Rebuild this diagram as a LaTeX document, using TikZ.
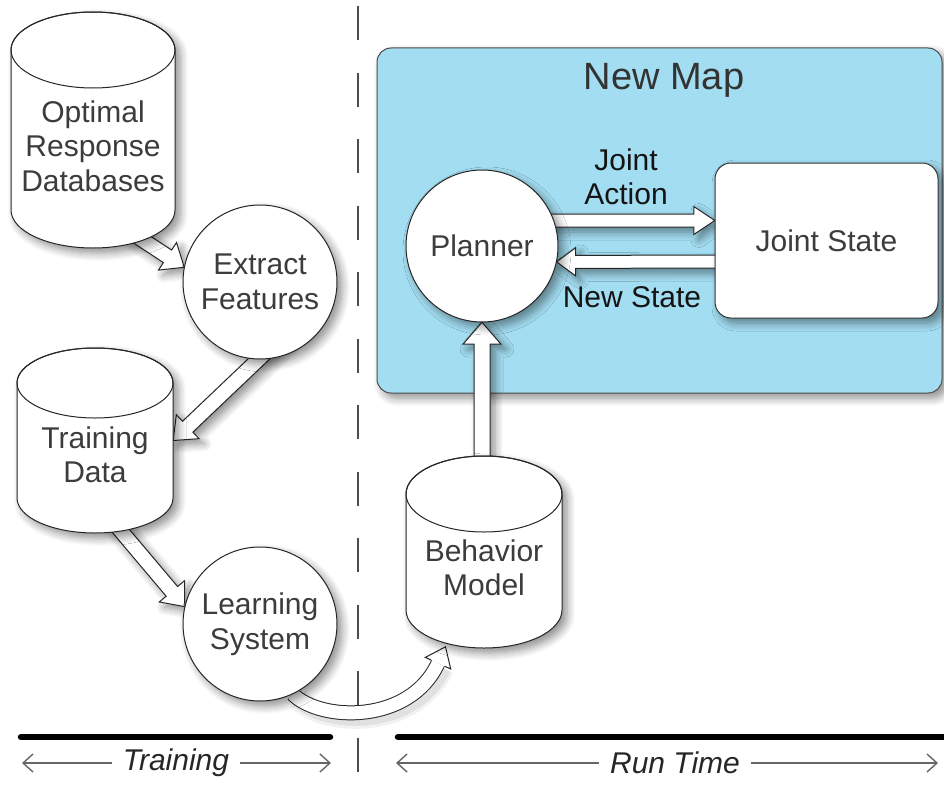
\documentclass[tikz,border=0pt]{standalone}
\usepackage{fontspec}
\setmainfont{Liberation Sans}
\usetikzlibrary{calc,arrows.meta,shadows.blur}
\definecolor{mapblue}{HTML}{A3DDF1}
\definecolor{inktext}{HTML}{3C3C3C}
\tikzset{
  softshadow/.style={blur shadow={shadow xshift=5pt, shadow yshift=-5pt, shadow blur radius=8pt, shadow blur steps=8, shadow opacity=45}},
  nodefont/.style={font=\fontsize{30}{34.5}\selectfont, text=inktext, align=center},
  bubblegeo/.style={circle, minimum size=154pt, inner sep=0pt},
  bubble/.style={bubblegeo, draw=black!85, line width=1pt, fill=white, nodefont, softshadow},
  cylbody/.style={draw=black!85, line width=1pt, fill=white, softshadow},
  cyltop/.style={draw=black!85, line width=1pt},
  cyllabel/.style={nodefont, inner sep=0pt},
  blockarrow/.style={draw=black!85, line width=1pt, fill=white, line join=miter, softshadow},
  divider/.style={draw=black!70, line width=1.3pt, dash pattern=on 34pt off 32.5pt},
  phasebar/.style={draw=black, line width=6.5pt, line cap=round},
  spanarrow/.style={draw=black!60, line width=1.4pt, shorten <=11pt, -{Straight Barb[length=10pt, width=18pt, line width=1.4pt]}},
  spantext/.style={font=\fontsize{30}{34}\selectfont\itshape, text=black!85, inner sep=0pt},
  mapbox/.style={draw=black!70, line width=1pt, fill=mapblue, rounded corners=14pt, minimum width=565pt, minimum height=345pt, inner sep=0pt, softshadow},
  maptitle/.style={font=\fontsize{38}{42}\selectfont, text=black!80, inner sep=0pt},
  stategeo/.style={rectangle, minimum width=223pt, minimum height=155pt, inner sep=0pt},
  statebox/.style={stategeo, draw=black!80, line width=1pt, fill=white, rounded corners=16pt, nodefont, softshadow},
  flowlabel/.style={font=\fontsize{30}{34.5}\selectfont, text=black!92, align=center, inner sep=0pt}
}
% cylinder anchor node: name, cx, rx, top-ellipse centre y, bottom-ellipse centre y, ry (image y, downward)
\newcommand{\cylanchor}[6]{%
  \node[inner sep=0pt, minimum width={2*#3*1pt}, minimum height={(#5-#4+2*#6)*1pt}] (#1) at (#2,{-(#4+#5)/2}) {};
}
% cylinder drawing: name, cx, rx, top y, bottom y, ry, text
\newcommand{\dbcyl}[7]{%
  \path[cylbody] (#2-#3,-#4) -- (#2-#3,-#5)
     arc[start angle=180, end angle=360, x radius=#3, y radius=#6] -- (#2+#3,-#4)
     arc[start angle=0, end angle=180, x radius=#3, y radius=#6] -- cycle;
  \draw[cyltop] (#2,-#4) ellipse[x radius=#3, y radius=#6];
  \node[cyllabel] (#1-label) at (#2,{-((#4+#6+#5)/2-3)}) {#7};
}
% block arrow: from, to, shaft half width, head half width, head length
\newcommand{\blockarrowpath}[5]{%
  \path (#1) coordinate (ba-s) (#2) coordinate (ba-t);
  \path ($(ba-t)!#5!(ba-s)$) coordinate (ba-h);
  \draw[blockarrow] ($(ba-s)!#3!90:(ba-t)$) -- ($(ba-h)!#3!-90:(ba-s)$) -- ($(ba-h)!#4!-90:(ba-s)$)
     -- (ba-t) -- ($(ba-h)!#4!90:(ba-s)$) -- ($(ba-h)!#3!90:(ba-s)$) -- ($(ba-s)!#3!-90:(ba-t)$) -- cycle;
}
\begin{document}
\begin{tikzpicture}[x=1pt,y=1pt]
\useasboundingbox (0,0) rectangle (944,-784);

% ---- background ----
\draw[divider] (358,-6) -- (358,-784);
\node[mapbox] (map) at (659.5,-220.5) {};

% ---- node geometry (named anchors) ----
\cylanchor{ord}{93}{82}{50}{210}{38}
\cylanchor{td}{95}{78}{383}{498}{35}
\cylanchor{bm}{484}{78}{494}{610}{38}
\node[bubblegeo] (ef) at (260,-282) {};
\node[bubblegeo] (ls) at (260,-624) {};
\node[bubblegeo, minimum size=152pt] (planner) at (482,-246) {};
\node[stategeo] (js) at (826.5,-240.5) {};

% ---- connectors ----
\blockarrowpath{$(ord.south)+(24,25)$}{ef.169}{7.5pt}{16.5pt}{20pt}
\blockarrowpath{$(ef.center)+(23,-54)$}{td.east}{7.5pt}{16.5pt}{20pt}
\blockarrowpath{$(td.center)+(-7,-51.5)$}{ls.167}{7.5pt}{16.5pt}{20pt}
\blockarrowpath{planner.south |- bm.center}{planner.south}{8pt}{19pt}{22pt}
\coordinate (ja0) at ($(planner.center)+(0,25.5)$);
\blockarrowpath{ja0}{js.west |- ja0}{6.5pt}{14pt}{21pt}
\coordinate (ns0) at ($(js.center)+(0,-21)$);
\blockarrowpath{ns0}{planner.-12}{6.5pt}{14pt}{19pt}
% curved arrow Learning System -> Behavior Model
\coordinate (c0) at (ls.295);
\coordinate (ctip) at ($(bm.south)+(-38.5,1.4)$);
\coordinate (cbase) at ($(bm.south)+(-46,-15)$);
\draw[line width=22pt, black, opacity=0.05] ($(c0)+(5,-5)$) .. controls ($(c0)+(33,-33)$) and ($(cbase)+(-23,-66)$) .. ($(cbase)+(5,-5)$);
\draw[line width=16pt, black, opacity=0.07] ($(c0)+(5,-5)$) .. controls ($(c0)+(33,-33)$) and ($(cbase)+(-23,-66)$) .. ($(cbase)+(5,-5)$);
\draw[line width=15pt, black!85] (c0) .. controls ($(c0)+(28,-28)$) and ($(cbase)+(-28,-61)$) .. (cbase);
\draw[line width=13pt, white] (c0) .. controls ($(c0)+(28,-28)$) and ($(cbase)+(-28,-61)$) .. (cbase);
\fill[white] ($(cbase)!7.5pt!90:(ctip)$) -- ($(cbase)!14pt!90:(ctip)$) -- (ctip) -- ($(cbase)!14pt!-90:(ctip)$) -- ($(cbase)!7.5pt!-90:(ctip)$) -- cycle;
\draw[black!85, line width=1pt, line join=miter] ($(cbase)!7.5pt!90:(ctip)$) -- ($(cbase)!14pt!90:(ctip)$) -- (ctip) -- ($(cbase)!14pt!-90:(ctip)$) -- ($(cbase)!7.5pt!-90:(ctip)$);

% ---- visible nodes on top ----
\dbcyl{ord}{93}{82}{50}{210}{38}{Optimal\\Response\\Databases}
\dbcyl{td}{95}{78}{383}{498}{35}{Training\\Data}
\dbcyl{bm}{484}{78}{494}{610}{38}{Behavior\\Model}
\node[bubble] (ef-face) at (ef) {Extract\\Features};
\node[bubble] (ls-face) at (ls) {Learning\\System};
\node[bubble, minimum size=152pt] (planner-face) at (planner) {Planner};
\node[statebox] (js-face) at (js) {Joint State};
\node[maptitle] (title) at (664,-80) {New Map};
\node[flowlabel] (jalbl) at (626,-177) {Joint\\Action};
\node[flowlabel] (nslbl) at (632,-297) {New State};

% ---- phase bars and spans ----
\draw[phasebar] (21,-737) -- (330,-737);
\draw[phasebar] (398,-737) -- (960,-737);
\node[spantext] (trlbl) at (176,-763) {Training};
\coordinate (trL) at (22,-763);
\coordinate (trR) at (331,-763);
\draw[spanarrow] (trlbl.west) -- (trL);
\draw[spanarrow] (trlbl.east) -- (trR);
\node[spantext] (rtlbl) at (675,-763) {Run Time};
\coordinate (rtL) at (396,-763);
\coordinate (rtR) at (938,-763);
\draw[spanarrow] (rtlbl.west) -- (rtL);
\draw[spanarrow] (rtlbl.east) -- (rtR);
\end{tikzpicture}
\end{document}
